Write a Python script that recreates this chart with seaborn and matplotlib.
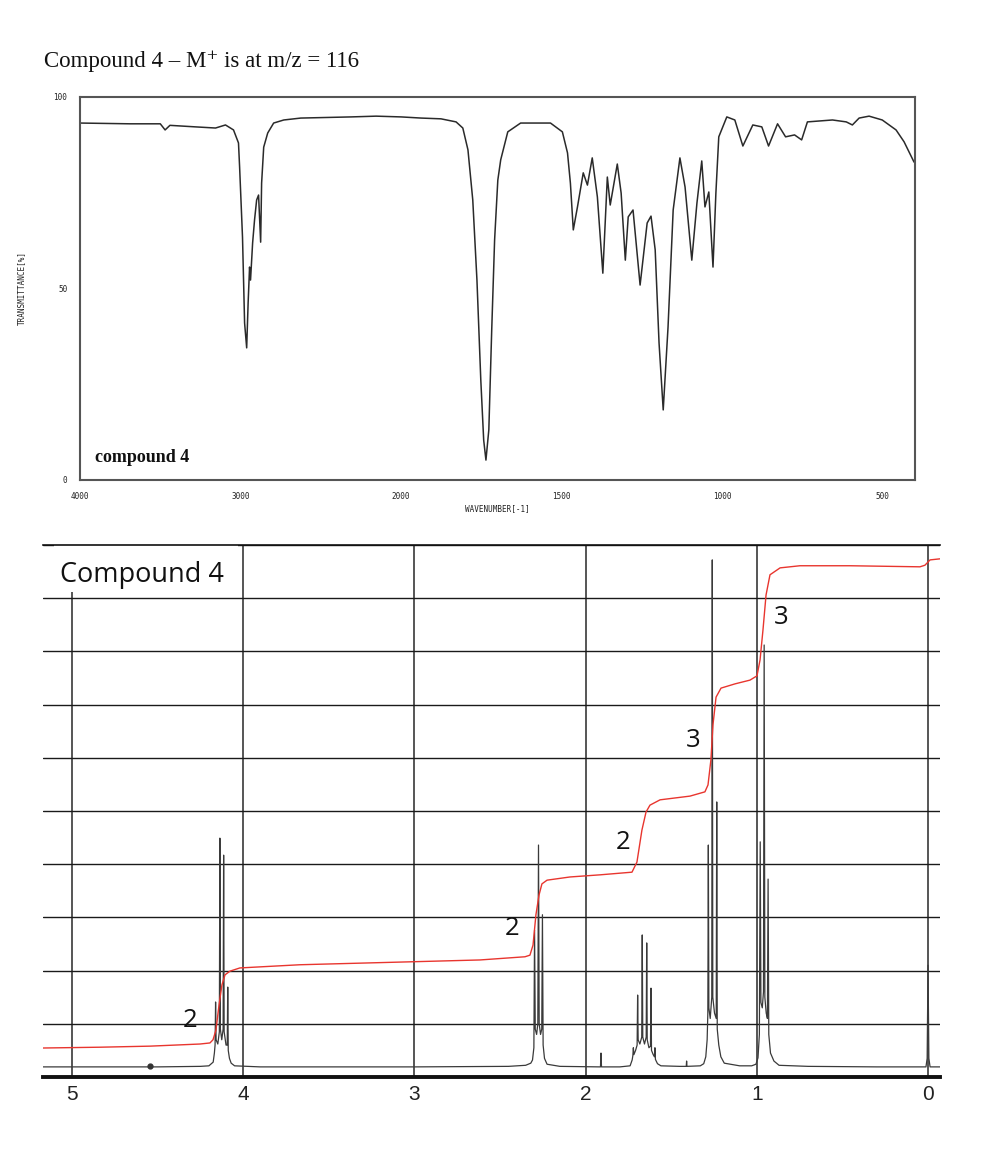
import numpy as np
import pandas as pd
import matplotlib
matplotlib.use("Agg")
import matplotlib.pyplot as plt
from matplotlib.patches import Rectangle
import seaborn as sns

sns.set_style("white")
plt.rcParams['font.family'] = ['DejaVu Sans']

# ---------------- data ----------------
title_text = "Compound 4 \u2013 M\u207a is at m/z = 116"

# IR spectrum (wavenumber cm-1, transmittance %)
ir_wavenumber = [4000, 3688, 3500, 3470, 3440, 3281, 3156, 3094, 3044, 3013, 3006, 2988,
                 2981, 2975, 2962, 2953, 2944, 2938, 2925, 2913, 2900, 2888, 2875, 2869,
                 2856, 2831, 2794, 2731, 2625, 2312, 2156, 2000, 1938, 1876, 1829, 1808,
                 1792, 1777, 1764, 1752, 1743, 1736, 1727, 1718, 1709, 1699, 1690, 1668,
                 1628, 1535, 1498, 1482, 1473, 1464, 1451, 1433, 1420, 1405, 1389, 1372,
                 1358, 1349, 1327, 1315, 1302, 1293, 1278, 1256, 1234, 1222, 1209, 1197,
                 1184, 1169, 1153, 1132, 1116, 1095, 1079, 1064, 1054, 1042, 1029, 1020,
                 1011, 986, 961, 936, 905, 877, 856, 828, 803, 775, 753, 735,
                 657, 614, 595, 574, 543, 502, 459, 434, 403]
ir_transmittance = [93.2, 93.0, 93.0, 91.4, 92.6, 92.2, 91.9, 92.7, 91.4, 88.0, 81.7, 63.4,
                    51.4, 41.0, 34.5, 46.2, 55.6, 52.2, 61.9, 67.9, 73.1, 74.4, 62.1, 77.5,
                    86.9, 90.6, 93.2, 94.0, 94.5, 94.8, 95.0, 94.8, 94.5, 94.3, 93.5, 91.9,
                    86.2, 73.1, 52.2, 26.1, 10.4, 5.2, 13.1, 39.2, 62.7, 78.3, 83.6, 90.9,
                    93.2, 93.2, 90.9, 85.4, 77.5, 65.3, 71.3, 80.2, 77.0, 84.1, 73.9, 54.0,
                    79.1, 71.8, 82.5, 74.9, 57.4, 68.7, 70.5, 50.9, 67.1, 68.9, 60.1, 35.8,
                    18.3, 39.9, 70.5, 84.1, 76.5, 57.4, 72.3, 83.3, 71.3, 75.2, 55.6, 74.9,
                    89.6, 94.8, 94.0, 87.2, 92.7, 92.2, 87.2, 93.0, 89.6, 90.1, 88.8, 93.5,
                    94.0, 93.5, 92.7, 94.5, 95.0, 94.0, 91.4, 88.3, 83.0]
ir_major_ticks = [4000, 3500, 3000, 2500, 2000, 1500, 1000, 500]
ir_major_labels = ["4000", "", "3000", "", "2000", "1500", "1000", "500"]
ir_y_ticks = [0, 50, 100]
ir_y_labels = ["0", "50", "100"]

# 1H NMR trace (ppm, intensity in grid units)
nmr_ppm = [5.17, 4.50, 4.25, 4.20,
           4.175, 4.168, 4.164, 4.161, 4.158, 4.148, 4.139, 4.136, 4.133, 4.125, 4.117, 4.114,
           4.111, 4.100, 4.093, 4.090, 4.087, 4.080, 4.070, 4.050,
           3.90, 3.00, 2.45, 2.35,
           2.320, 2.310, 2.302, 2.298, 2.294, 2.286, 2.279, 2.275, 2.271, 2.263, 2.256, 2.252,
           2.248, 2.240, 2.225,
           2.15, 1.92, 1.913, 1.910, 1.907, 1.80,
           1.740, 1.728, 1.724, 1.721, 1.718, 1.708, 1.699, 1.696, 1.693, 1.683, 1.672, 1.669,
           1.666, 1.656, 1.646, 1.643, 1.640, 1.630, 1.621, 1.618, 1.615, 1.605, 1.598, 1.595,
           1.592, 1.580, 1.560,
           1.45, 1.412, 1.410, 1.408, 1.33,
           1.310, 1.298, 1.290, 1.286, 1.283, 1.280, 1.272, 1.263, 1.260, 1.257, 1.247, 1.237,
           1.234, 1.231, 1.222, 1.210, 1.190, 1.100,
           1.03,
           1.005, 0.993, 0.985, 0.980, 0.976, 0.968, 0.961, 0.957, 0.953, 0.945, 0.938, 0.934,
           0.930, 0.920, 0.900, 0.870,
           0.70, 0.30, 0.012, 0.005, 0.000, -0.005, -0.012, -0.07]
nmr_intensity = [0.19, 0.19, 0.20, 0.21,
                 0.28, 0.45, 0.60, 1.41, 0.70, 0.62, 0.85, 4.49, 0.90, 0.70, 0.90, 4.17,
                 0.85, 0.60, 0.60, 1.69, 0.50, 0.35, 0.26, 0.21,
                 0.19, 0.19, 0.20, 0.22,
                 0.26, 0.32, 0.55, 2.76, 0.90, 0.80, 1.00, 4.36, 1.00, 0.80, 0.90, 3.05,
                 0.60, 0.35, 0.24,
                 0.20, 0.19, 0.19, 0.45, 0.19, 0.19,
                 0.21, 0.32, 0.40, 0.55, 0.42, 0.50, 0.60, 1.54, 0.70, 0.62, 0.75, 2.67,
                 0.75, 0.62, 0.75, 2.52, 0.70, 0.55, 0.58, 1.67, 0.50, 0.42, 0.38, 0.55,
                 0.33, 0.25, 0.21,
                 0.20, 0.20, 0.30, 0.20, 0.21,
                 0.25, 0.38, 0.70, 1.20, 4.36, 1.30, 1.10, 1.50, 9.72, 1.50, 1.20, 1.10,
                 5.17, 0.90, 0.60, 0.38, 0.26, 0.21,
                 0.21,
                 0.24, 0.36, 0.80, 4.42, 1.40, 1.30, 1.60, 8.12, 1.50, 1.20, 1.10, 3.72,
                 0.80, 0.45, 0.30, 0.22,
                 0.20, 0.19, 0.19, 0.35, 2.10, 0.35, 0.19, 0.19]

# integral curve
integral_ppm = [5.169, 4.836, 4.544, 4.252, 4.194, 4.176, 4.159, 4.141, 4.124, 4.106, 4.077,
                4.019, 3.668, 3.084, 2.617, 2.354, 2.325, 2.307, 2.290, 2.272, 2.255, 2.225,
                2.091, 1.916, 1.729, 1.700, 1.671, 1.647, 1.624, 1.565, 1.390, 1.303, 1.285,
                1.268, 1.256, 1.238, 1.209, 1.127, 1.040, 0.999, 0.981, 0.964, 0.946, 0.923,
                0.864, 0.748, 0.456, 0.047, 0.018, -0.012, -0.070]
integral_value = [0.545, 0.56, 0.58, 0.62, 0.64, 0.70, 0.88, 1.35, 1.73, 1.92, 1.99,
                  2.05, 2.11, 2.16, 2.20, 2.26, 2.29, 2.48, 3.05, 3.42, 3.63, 3.70,
                  3.76, 3.80, 3.85, 4.04, 4.64, 4.98, 5.11, 5.21, 5.28, 5.36, 5.49,
                  5.96, 6.62, 7.14, 7.31, 7.39, 7.46, 7.54, 7.84, 8.40, 9.06, 9.44,
                  9.57, 9.61, 9.61, 9.59, 9.62, 9.72, 9.74]

# integration labels
label_text = ["2", "2", "2", "3", "3"]
label_ppm = [4.31, 2.43, 1.78, 1.373, 0.859]
label_y = [1.07, 2.80, 4.40, 6.32, 8.63]

nmr_ticks = [5, 4, 3, 2, 1, 0]
impurity_dot_ppm = [4.545]
impurity_dot_y = [0.2]

# ---------------- figure ----------------
fig = plt.figure(figsize=(9.94, 11.62), dpi=100)

fig.text(44 / 994, 1 - 67 / 1162, title_text, va="baseline", ha="left",
         family=["Liberation Serif", "DejaVu Serif"], fontsize=16.5, color="#111111")

# ---- IR panel ----
ax1 = fig.add_axes([80 / 994, 1 - 480 / 1162, 835 / 994, 383 / 1162])


def fwd(x):
    x = np.asarray(x, dtype=float)
    return np.where(x >= 2000, x, 2000 - (2000 - x) * 2.0)


def inv(y):
    y = np.asarray(y, dtype=float)
    return np.where(y >= 2000, y, 2000 - (2000 - y) / 2.0)


ir_df = pd.DataFrame({"wn": ir_wavenumber, "T": ir_transmittance})
sns.lineplot(data=ir_df, x="wn", y="T", ax=ax1, color="#2a2a2a", lw=1.1,
             sort=False, estimator=None)
ax1.set_xscale("function", functions=(fwd, inv))
ax1.set_xlim(4000, 400)
ax1.set_ylim(0, 100)

ax1.set_xticks(ir_major_ticks)
ax1.set_xticklabels(ir_major_labels)
ax1.set_xticks([v for v in range(400, 4001, 100) if v not in ir_major_ticks], minor=True)
ax1.set_yticks(ir_y_ticks)
ax1.set_yticklabels(ir_y_labels)
ax1.set_yticks(range(10, 100, 10), minor=True)
ax1.tick_params(axis="both", which="major", direction="out", length=6, width=1.2,
                color="#444444", labelsize=5.5, labelcolor="#222222", pad=3)
ax1.tick_params(axis="both", which="minor", direction="out", length=3, width=1.2,
                color="#444444")
for lab in ax1.get_xticklabels() + ax1.get_yticklabels():
    lab.set_family("DejaVu Sans Mono")
for s in ax1.spines.values():
    s.set_color("#555555")
    s.set_linewidth(1.5)
ax1.set_xlabel("WAVENUMBER[-1]", family="DejaVu Sans Mono", fontsize=5.5,
               color="#222222", labelpad=2)
ax1.set_ylabel("TRANSMITTANCE[%]", family="DejaVu Sans Mono", fontsize=5.5,
               color="#222222", labelpad=20)
ax1.text(0.018, 0.048, "compound 4", transform=ax1.transAxes, va="baseline", ha="left",
         family=["Liberation Serif", "DejaVu Serif"], weight="bold", fontsize=13,
         color="#111111")

# ---- NMR panel ----
ax2 = fig.add_axes([43 / 994, 1 - 1077 / 1162, 897 / 994, 532 / 1162])
ax2.set_axisbelow(True)
nmr_df = pd.DataFrame({"ppm": nmr_ppm, "I": nmr_intensity})
sns.lineplot(data=nmr_df, x="ppm", y="I", ax=ax2, color="#3a3a3a", lw=0.9,
             sort=False, estimator=None)
int_df = pd.DataFrame({"ppm": integral_ppm, "v": integral_value})
sns.lineplot(data=int_df, x="ppm", y="v", ax=ax2, color="#e8352e", lw=1.0,
             sort=False, estimator=None)
ax2.plot(impurity_dot_ppm, impurity_dot_y, "o", ms=3.5, color="#333333")

ax2.set_xlim(5.169, -0.070)
ax2.set_ylim(0, 10)
ax2.set_xticks(nmr_ticks)
ax2.set_xticklabels([str(t) for t in nmr_ticks])
ax2.set_yticks(range(0, 11))
ax2.grid(True, axis="y", color="#1a1a1a", lw=1.0)
ax2.grid(True, axis="x", color="#555555", lw=1.4)
ax2.tick_params(axis="y", left=False, labelleft=False)
ax2.tick_params(axis="x", length=0, labelsize=15, labelcolor="#222222", pad=6)
for lab in ax2.get_xticklabels():
    lab.set_family("Liberation Sans")
ax2.spines["left"].set_visible(False)
ax2.spines["right"].set_visible(False)
ax2.spines["top"].set_color("#111111")
ax2.spines["top"].set_linewidth(1.2)
ax2.spines["top"].set_zorder(5)
ax2.spines["bottom"].set_color("#111111")
ax2.spines["bottom"].set_linewidth(2.8)
ax2.set_xlabel("")
ax2.set_ylabel("")

# white box behind the panel title (hides the grid line at 5 ppm)
ax2.add_patch(Rectangle((0.012, 0.912), 0.205, 0.092, transform=ax2.transAxes,
                        facecolor="white", edgecolor="none", zorder=1.5, clip_on=False))
ax2.text(0.019, 0.930, "Compound 4", transform=ax2.transAxes, va="baseline", ha="left",
         family=["Open Sans", "DejaVu Sans"], fontsize=19.5, color="#111111", zorder=3)

for t, xp, yp in zip(label_text, label_ppm, label_y):
    ax2.text(xp, yp, t, ha="center", va="center", family=["Open Sans", "DejaVu Sans"],
             fontsize=18.5, color="#111111")

fig.savefig("out.png", dpi=100)
